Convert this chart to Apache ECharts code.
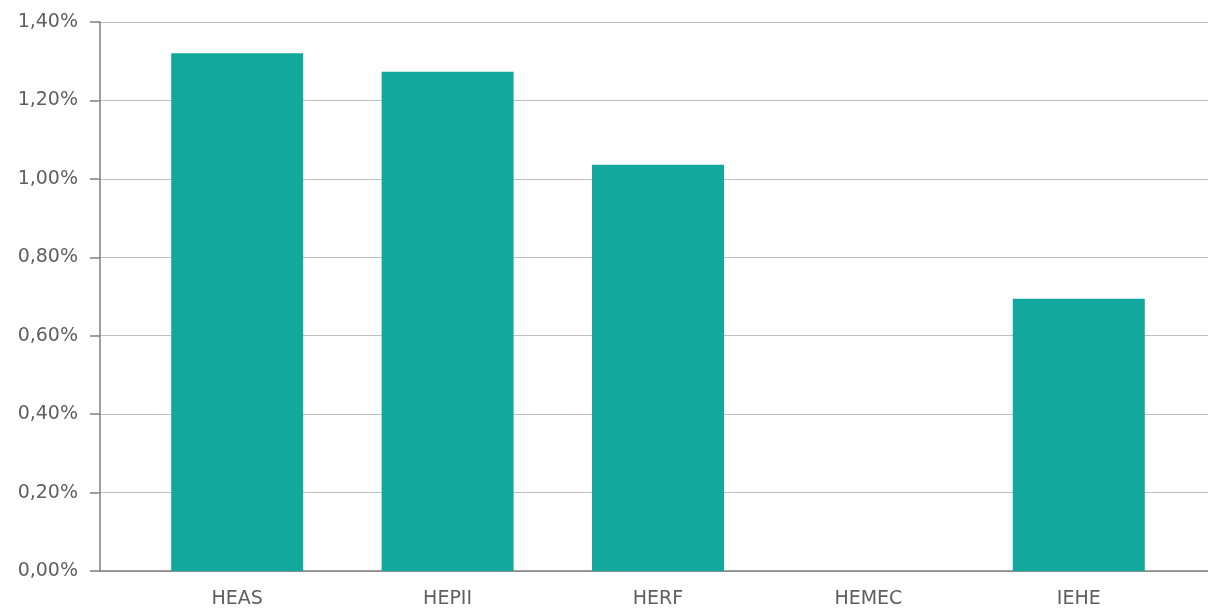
<!DOCTYPE html>
<html>
<head>
<meta charset="utf-8">
<script src="https://cdn.jsdelivr.net/npm/echarts@6/dist/echarts.min.js"></script>
<style>
  html, body { margin: 0; padding: 0; background: #fff; }
  #main { width: 1208px; height: 610px; }
</style>
</head>
<body>
<div id="main"></div>
<script>
// categories and values (in %)
var categories = ["HEAS", "HEPII", "HERF", "HEMEC", "IEHE"];
var values = [1.32, 1.273, 1.036, 0, 0.694];
var yTicks = { min: 0, max: 1.4, step: 0.2 };

var chartDom = document.getElementById("main");
var myChart = echarts.init(chartDom);
var labelFont = "'DejaVu Sans', sans-serif";

var fmtPct = function (v) {
  return v.toFixed(2).replace(".", ",") + "%";
};

var option = {
  animation: false,
  grid: [
    // frame grid: axis line, ticks, gridlines
    { left: 100, right: 0, top: 22, bottom: 39 },
    // bar grid: the bars sit a bit inward of the frame
    { left: 132, right: 24, top: 22, bottom: 39 }
  ],
  xAxis: [
    {
      gridIndex: 0,
      type: "category",
      data: categories,
      axisLine: { show: true, lineStyle: { color: "#7f7f7f", width: 1.5 } },
      axisTick: { show: false },
      axisLabel: { show: false }
    },
    {
      gridIndex: 1,
      type: "category",
      data: categories,
      axisLine: { show: false },
      axisTick: { show: false },
      axisLabel: {
        margin: 19,
        color: "#5f5f5f",
        fontSize: 19,
        fontFamily: labelFont
      }
    }
  ],
  yAxis: [
    {
      gridIndex: 0,
      type: "value",
      min: yTicks.min,
      max: yTicks.max,
      interval: yTicks.step,
      axisLine: { show: true, lineStyle: { color: "#7f7f7f", width: 1.5 } },
      axisTick: { show: true, length: 10, lineStyle: { color: "#7f7f7f", width: 1.5 } },
      splitLine: { show: true, lineStyle: { color: "#bfbfbf", width: 1.2 } },
      axisLabel: {
        margin: 22,
        color: "#5f5f5f",
        fontSize: 19,
        fontFamily: labelFont,
        formatter: fmtPct
      }
    },
    {
      gridIndex: 1,
      type: "value",
      min: yTicks.min,
      max: yTicks.max,
      interval: yTicks.step,
      show: false,
      splitLine: { show: false }
    }
  ],
  series: [
    {
      type: "bar",
      xAxisIndex: 1,
      yAxisIndex: 1,
      data: values,
      barWidth: 132,
      itemStyle: { color: "#13a89e" }
    }
  ]
};

myChart.setOption(option);
window.onresize = function () {
  myChart.resize();
};
</script>
</body>
</html>
